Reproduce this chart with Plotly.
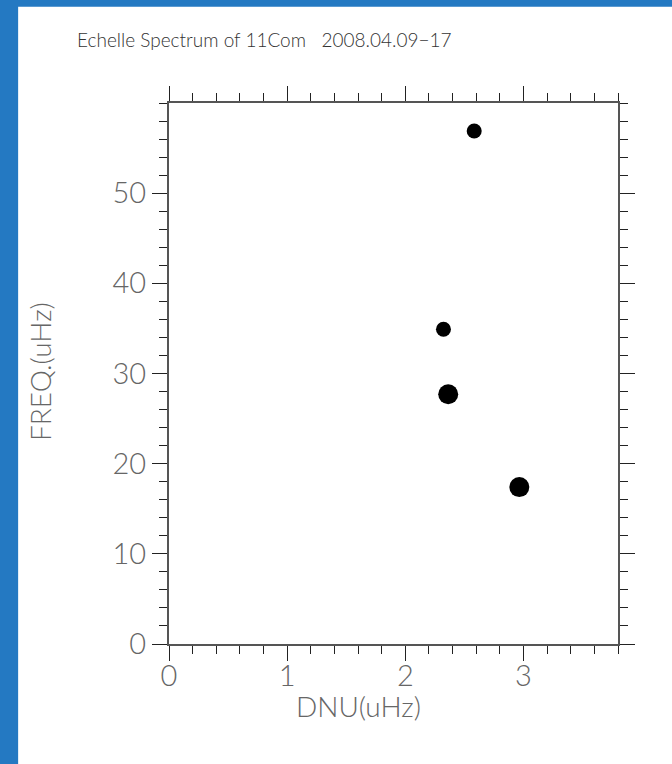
import plotly.graph_objects as go

# Data
dnu = [2.583, 2.323, 2.363, 2.965]
freq = [56.9, 34.9, 27.7, 17.4]
marker_sizes = [15, 15, 20, 20]

x_ticks = [0, 1, 2, 3]
y_ticks = [0, 10, 20, 30, 40, 50]

title_text = "Echelle Spectrum of 11Com\u00a0\u00a0\u00a02008.04.09\u221217"
x_title = "DNU(uHz)"
y_title = "FREQ.(uHz)"

FONT = "Lato, Liberation Sans, DejaVu Sans"

fig = go.Figure()
fig.add_trace(go.Scatter(
    x=dnu, y=freq, mode="markers",
    marker=dict(color="black", size=marker_sizes, opacity=1, line=dict(width=0)),
    showlegend=False, hoverinfo="skip",
))

axis_common = dict(
    showline=True, linecolor="#555", linewidth=2, mirror="ticks",
    ticks="outside", ticklen=15, tickwidth=1, tickcolor="#222",
    showgrid=False, zeroline=False,
    tickfont=dict(family=FONT, size=29, color="#666", weight=300),
)

fig.update_xaxes(
    range=[0, 3.8], tickvals=x_ticks, ticktext=[str(v) for v in x_ticks],
    minor=dict(ticks="outside", ticklen=8, dtick=0.2, tick0=0, tickcolor="#222", tickwidth=1, showgrid=False),
    ticklabelstandoff=-10,
    **axis_common,
)
fig.update_yaxes(
    range=[0, 60], tickvals=y_ticks, ticktext=[str(v) for v in y_ticks],
    minor=dict(ticks="outside", ticklen=8, dtick=2, tick0=0, tickcolor="#222", tickwidth=1, showgrid=False),
    **axis_common,
)

title_font = dict(family=FONT, size=28, color="#666", weight=300)
fig.add_annotation(text=x_title, xref="paper", yref="paper",
                   x=(359 - 169) / 449.3, y=-(706 - 644) / 540.7,
                   xanchor="center", yanchor="middle", showarrow=False, font=title_font)
fig.add_annotation(text=y_title, xref="paper", yref="paper",
                   x=(40 - 169) / 449.3, y=(644 - 372) / 540.7, textangle=-90,
                   xanchor="center", yanchor="middle", showarrow=False, font=title_font)

fig.add_shape(type="rect", xref="paper", yref="paper",
              x0=-0.336, x1=1.3, y0=-0.3, y1=1.178,
              fillcolor="white", line=dict(width=0), layer="below")

fig.update_layout(
    width=672, height=764,
    margin=dict(l=169, r=54, t=103, b=120),
    paper_bgcolor="#2479c2",
    plot_bgcolor="white",
    title=dict(text=title_text, x=77/672, xanchor="left", y=1-40/764, yanchor="middle",
               font=dict(family=FONT, size=19, color="#333", weight=300)),
)

fig.write_html("out.html", config={"displayModeBar": False},
               post_script="document.body.style.margin='0';")
